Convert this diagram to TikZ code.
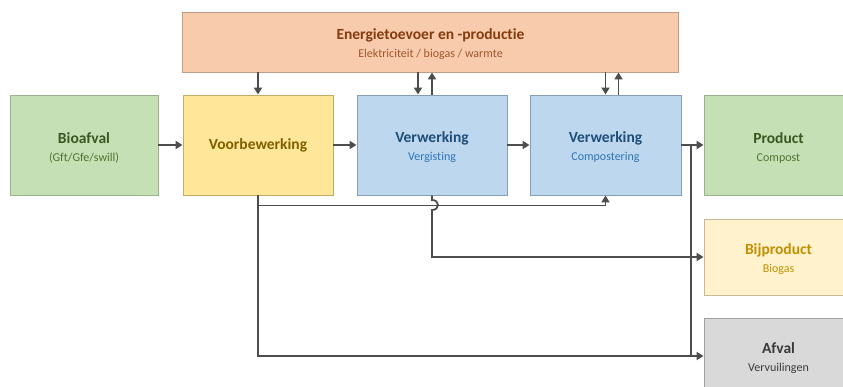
\documentclass[tikz,border=0pt]{standalone}
\usepackage{fontspec}
\setmainfont{Carlito}[Ligatures=NoCommon]
\usetikzlibrary{arrows.meta}

% box fills, borders and text colours
\definecolor{enF}{HTML}{F8CBAD}\definecolor{enB}{HTML}{C29C84}
\definecolor{enT}{HTML}{843C0C}\definecolor{enS}{HTML}{A0562C}
\definecolor{grF}{HTML}{C5E0B4}\definecolor{grB}{HTML}{9AB38A}
\definecolor{grT}{HTML}{385723}\definecolor{grS}{HTML}{4F7434}
\definecolor{yeF}{HTML}{FFE699}\definecolor{yeB}{HTML}{C4AC64}
\definecolor{yeT}{HTML}{7F6000}
\definecolor{blF}{HTML}{BDD7EE}\definecolor{blB}{HTML}{869FB8}
\definecolor{blT}{HTML}{1F4E79}\definecolor{blS}{HTML}{2E75B6}
\definecolor{lyF}{HTML}{FFF2CC}\definecolor{lyB}{HTML}{C8B992}
\definecolor{lyT}{HTML}{BF9000}
\definecolor{gyF}{HTML}{D9D9D9}\definecolor{gyB}{HTML}{A0A0A0}
\definecolor{gyT}{HTML}{3A3A3A}
\definecolor{linec}{HTML}{4D4D4D}

\newcommand{\boxtitle}[2]{\rule{0pt}{16pt}\textcolor{#1}{\fontsize{15.5}{18}\selectfont\bfseries #2}}

\begin{document}
\begin{tikzpicture}[x=1pt,y=-1pt,
  box/.style={draw, line width=0.9pt, minimum width=150pt, minimum height=100pt,
    inner sep=0pt, align=center, font=\fontsize{12}{18}\selectfont},
  flow/.style={draw=linec, line width=1.8pt, -{Triangle[length=7pt,width=8pt]}},
  wire/.style={draw=linec, line width=1.8pt}]
\clip (0,0) rectangle (843,387);

% energy supply bar
\node[box, fill=enF, draw=enB, minimum width=496pt, minimum height=60pt] (energie) at (430.5,42)
  {\boxtitle{enT}{Energietoevoer en -productie}\\\textcolor{enS}{Elektriciteit / biogas / warmte}};

% process chain
\node[box, fill=grF, draw=grB, minimum width=148pt] (bio) at (84,145)
  {\boxtitle{grT}{Bioafval}\\\textcolor{grS}{(Gft/Gfe/swill)}};
\node[box, fill=yeF, draw=yeB] (voor) at (258,145)
  {\textcolor{yeT}{\fontsize{15.5}{18}\selectfont\bfseries Voorbewerking}};
\node[box, fill=blF, draw=blB] (verg) at (432,145)
  {\boxtitle{blT}{Verwerking}\\\textcolor{blS}{Vergisting}};
\node[box, fill=blF, draw=blB, minimum width=151pt] (comp) at (605.5,145)
  {\boxtitle{blT}{Verwerking}\\\textcolor{blS}{Compostering}};

% outputs
\node[box, fill=grF, draw=grB, minimum width=149pt] (prod) at (778.5,145)
  {\boxtitle{grT}{Product}\\\textcolor{grS}{Compost}};
\node[box, fill=lyF, draw=lyB, minimum width=149pt, minimum height=76pt] (bij) at (778.5,257)
  {\boxtitle{lyT}{Bijproduct}\\\textcolor{lyT}{Biogas}};
\node[box, fill=gyF, draw=gyB, minimum width=149pt, minimum height=76pt] (afval) at (778.5,356)
  {\boxtitle{gyT}{Afval}\\\textcolor{gyT}{Vervuilingen}};

% main flow
\draw[flow] (bio.east) -- (voor.west);
\draw[flow] (voor.east) -- (verg.west);
\draw[flow] (verg.east) -- (comp.west);
\draw[flow] (comp.east) -- (prod.west);
\coordinate (split) at (691,145);
\draw[wire] (split) -- (split |- afval.west);

% energy exchange
\draw[flow] (voor.north |- energie.south) -- (voor.north);
\draw[flow] ([xshift=-14pt]verg.north |- energie.south) -- ([xshift=-14pt]verg.north);
\draw[flow] (verg.north) -- (verg.north |- energie.south);
\draw[flow] (comp.north |- energie.south) -- (comp.north);
\draw[flow] ([xshift=13pt]comp.north) -- ([xshift=13pt]comp.north |- energie.south);

% side streams
\draw[flow] (voor.south) |- (afval.west);
\draw[flow] (voor.south) ++(0,10) -| (comp.south);
\draw[flow] (verg.south) -- (432,200) .. controls (440,200) and (440,210) .. (432,210) |- (bij.west);
\end{tikzpicture}
\end{document}
